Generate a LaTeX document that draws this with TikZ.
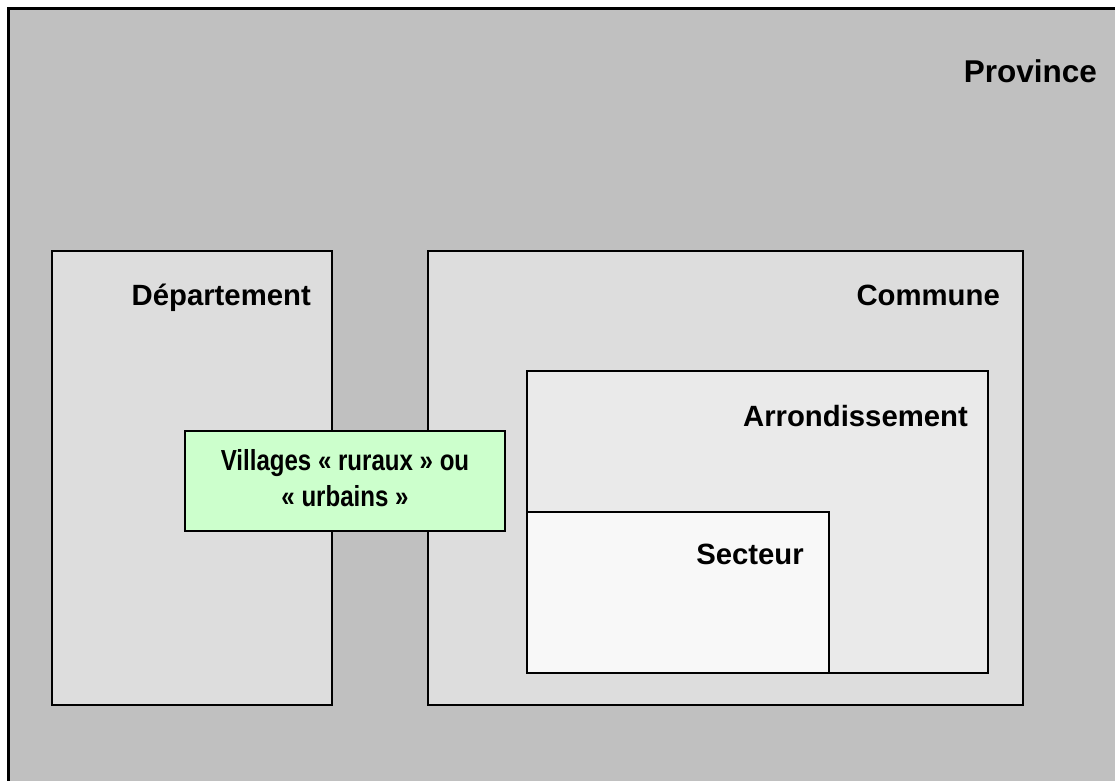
\documentclass[tikz,border=0pt]{standalone}
\usepackage{fontspec}
\setmainfont{Liberation Sans}
\begin{document}
\begin{tikzpicture}[x=1pt,y=-1pt,
  frame/.style={draw=black,line width=1.8pt},
  lbl/.style={anchor=base east,inner sep=0pt,font=\bfseries\fontsize{29.3}{35}\selectfont},
]
\useasboundingbox (0,0) rectangle (1115,780);
\fill[white] (0,0) rectangle (1115,780);
% province (runs past the right and bottom edges)
\begin{scope}
\clip (0,0) rectangle (1115,780);
\draw[fill={rgb,255:red,192;green,192;blue,192},line width=2.6pt] (8.5,8.5) rectangle (1140,800);
\end{scope}
\node[lbl,font=\bfseries\fontsize{31.5}{38}\selectfont] (province) at (1097,82) {Province};
% departement
\draw[frame,fill={rgb,255:red,221;green,221;blue,221}] (52,251) rectangle (332,705);
\node[lbl] (dept) at (311,305) {Département};
% commune
\draw[frame,fill={rgb,255:red,221;green,221;blue,221}] (428,251) rectangle (1023,705);
\node[lbl] (commune) at (1000,305) {Commune};
% arrondissement
\draw[frame,fill={rgb,255:red,234;green,234;blue,234}] (527,371) rectangle (988,673);
\node[lbl] (arr) at (968,426) {Arrondissement};
% secteur
\draw[frame,fill={rgb,255:red,248;green,248;blue,248}] (527,512) rectangle (829,673);
\node[lbl] (sect) at (804,564) {Secteur};
% villages
\draw[frame,fill={rgb,255:red,204;green,255;blue,204}] (185,431) rectangle (505,531);
\node[anchor=center,inner sep=0pt,font=\bfseries\fontsize{29}{36}\selectfont,align=center] (vill) at (345,478)
  {\scalebox{0.83}[1]{Villages « ruraux » ou}\\\scalebox{0.83}[1]{« urbains »}};
\end{tikzpicture}
\end{document}
